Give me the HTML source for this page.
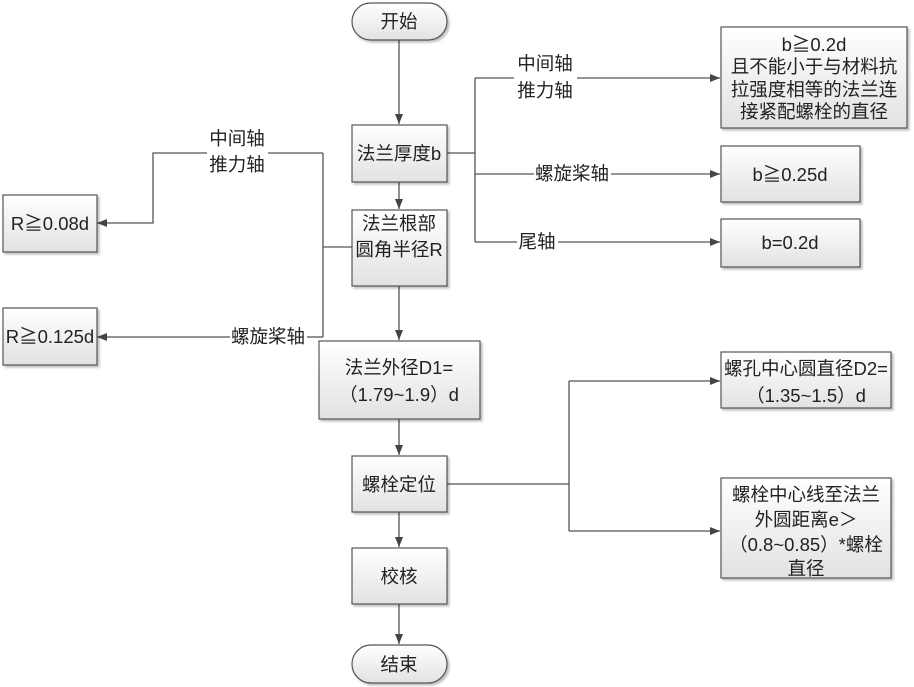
<!DOCTYPE html>
<html><head><meta charset="utf-8"><style>
html,body{margin:0;padding:0;background:#fff;}
svg{display:block;}
text{font-family:"Liberation Sans","Noto Sans CJK SC",sans-serif;font-size:18.5px;fill:#222;}
</style></head><body>
<svg width="914" height="687" viewBox="0 0 914 687" xmlns="http://www.w3.org/2000/svg">
<defs>
<linearGradient id="g" x1="0" y1="0" x2="0" y2="1"><stop offset="0" stop-color="#ffffff"/><stop offset="1" stop-color="#e2e2e2"/></linearGradient>
<marker id="a" markerWidth="10" markerHeight="8" refX="10" refY="4" orient="auto" markerUnits="userSpaceOnUse"><path d="M0,0 L10,4 L0,8 Z" fill="#444"/></marker>
</defs>
<g fill="none" stroke="#555" stroke-width="1.3">
<line x1="399" y1="40" x2="399" y2="124" marker-end="url(#a)"/>
<line x1="399" y1="182" x2="399" y2="209" marker-end="url(#a)"/>
<line x1="399" y1="286" x2="399" y2="340" marker-end="url(#a)"/>
<line x1="399" y1="419" x2="399" y2="455" marker-end="url(#a)"/>
<line x1="399" y1="512" x2="399" y2="547" marker-end="url(#a)"/>
<line x1="399" y1="604" x2="399" y2="644" marker-end="url(#a)"/>
<polyline points="447,153 475,153"/>
<line x1="475" y1="78" x2="475" y2="242"/>
<polyline points="475,78 514,78"/>
<line x1="577" y1="78" x2="720" y2="78" marker-end="url(#a)"/>
<line x1="475" y1="174" x2="534" y2="174"/>
<line x1="611" y1="174" x2="720" y2="174" marker-end="url(#a)"/>
<line x1="475" y1="242" x2="517" y2="242"/>
<line x1="558" y1="242" x2="720" y2="242" marker-end="url(#a)"/>
<line x1="352" y1="247" x2="323" y2="247"/>
<line x1="323" y1="153" x2="323" y2="337"/>
<line x1="323" y1="153" x2="268" y2="153"/>
<polyline points="207,153 153,153 153,223 97,223" marker-end="url(#a)"/>
<line x1="323" y1="337" x2="307" y2="337"/>
<line x1="230" y1="337" x2="97" y2="337" marker-end="url(#a)"/>
<line x1="447" y1="484" x2="569" y2="484"/>
<line x1="569" y1="381" x2="569" y2="531"/>
<line x1="569" y1="381" x2="720" y2="381" marker-end="url(#a)"/>
<line x1="569" y1="531" x2="720" y2="531" marker-end="url(#a)"/>
</g>
<g stroke="#555" stroke-width="1.2" fill="url(#g)" style="filter:drop-shadow(2px 2px 1px rgba(0,0,0,0.25))">
<rect x="352" y="3" width="95" height="37" rx="18.5"/>
<rect x="352" y="125" width="95" height="57"/>
<rect x="352" y="210" width="95" height="76"/>
<rect x="319" y="341" width="161" height="78"/>
<rect x="352" y="456" width="95" height="56"/>
<rect x="352" y="548" width="95" height="56"/>
<rect x="352" y="645" width="95" height="38" rx="19"/>
<rect x="3" y="195" width="94" height="57"/>
<rect x="3" y="308" width="94" height="57"/>
<rect x="721" y="27" width="186" height="101"/>
<rect x="721" y="146" width="139" height="56"/>
<rect x="721" y="219" width="139" height="48"/>
<rect x="721" y="352" width="170" height="56"/>
<rect x="721" y="478" width="170" height="100"/>
</g>
<g text-anchor="middle">
<text x="399" y="28">开始</text>
<text x="399" y="160">法兰厚度b</text>
<text x="399" y="230">法兰根部</text>
<text x="399" y="256">圆角半径R</text>
<text x="399" y="374">法兰外径D1=</text>
<text x="399" y="401">（1.79~1.9）d</text>
<text x="399" y="491">螺栓定位</text>
<text x="399" y="583">校核</text>
<text x="399" y="671">结束</text>
<text x="50" y="230">R≧0.08d</text>
<text x="50" y="343">R≧0.125d</text>
<text x="814" y="51">b≧0.2d</text>
<text x="814" y="73">且不能小于与材料抗</text>
<text x="814" y="96">拉强度相等的法兰连</text>
<text x="814" y="118">接紧配螺栓的直径</text>
<text x="790" y="181">b≧0.25d</text>
<text x="790" y="249">b=0.2d</text>
<text x="806" y="375">螺孔中心圆直径D2=</text>
<text x="806" y="402">（1.35~1.5）d</text>
<text x="806" y="501">螺栓中心线至法兰</text>
<text x="806" y="526">外圆距离e＞</text>
<text x="806" y="551">（0.8~0.85）*螺栓</text>
<text x="806" y="575">直径</text>
<text x="545" y="70">中间轴</text>
<text x="545" y="97">推力轴</text>
<text x="572" y="180">螺旋桨轴</text>
<text x="537" y="248">尾轴</text>
<text x="237" y="145">中间轴</text>
<text x="237" y="171">推力轴</text>
<text x="268" y="343">螺旋桨轴</text>
</g>
</svg>
</body></html>
